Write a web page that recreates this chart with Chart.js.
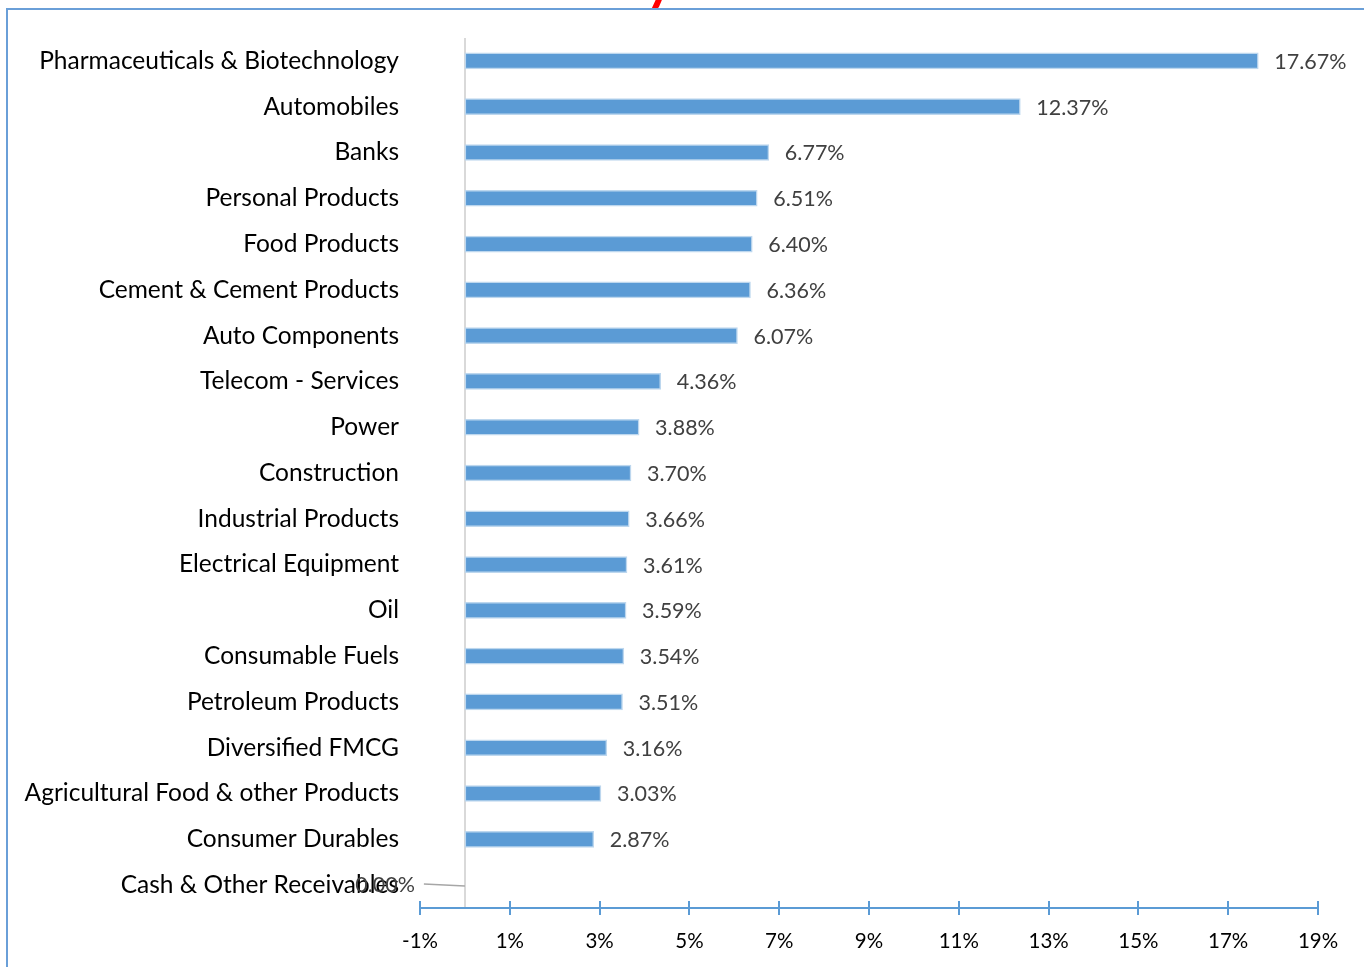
<!DOCTYPE html>
<html>
<head>
<meta charset="utf-8">
<script src="https://cdn.jsdelivr.net/npm/chart.js@4.4.1/dist/chart.umd.min.js"></script>
<style>
html,body{margin:0;padding:0;background:#fff;overflow:hidden;}
#wrap{position:absolute;left:0;top:0;width:1364px;height:967px;}
</style>
</head>
<body>
<div id="wrap"><canvas id="c" width="1364" height="967"></canvas></div>
<script>
const categories = [
  "Pharmaceuticals & Biotechnology","Automobiles","Banks","Personal Products","Food Products",
  "Cement & Cement Products","Auto Components","Telecom - Services","Power","Construction",
  "Industrial Products","Electrical Equipment","Oil","Consumable Fuels","Petroleum Products",
  "Diversified FMCG","Agricultural Food & other Products","Consumer Durables","Cash & Other Receivables"
];
const values = [17.67,12.37,6.77,6.51,6.40,6.36,6.07,4.36,3.88,3.70,3.66,3.61,3.59,3.54,3.51,3.16,3.03,2.87,0.00];
const xTicks = [-1,1,3,5,7,9,11,13,15,17,19];
const titleText = "y";

const FONT = "Lato, 'Open Sans', sans-serif";

const decor = {
  id:'decor',
  beforeDatasetsDraw(chart){
    const ctx = chart.ctx, xs = chart.scales.x, ca = chart.chartArea;
    ctx.save();
    // outer border
    ctx.strokeStyle = '#6A9FD8'; ctx.lineWidth = 2;
    ctx.strokeRect(7, 9, 1500, 1100);
    // title fragment (cut off at top)
    ctx.fillStyle = '#FF0000';
    ctx.font = "bold 54px " + FONT;
    ctx.textAlign = 'center'; ctx.textBaseline = 'alphabetic';
    ctx.fillText(titleText, 660, -1);
    // zero axis line
    const x0 = Math.round(xs.getPixelForValue(0));
    ctx.strokeStyle = '#D9D9D9'; ctx.lineWidth = 2;
    ctx.beginPath(); ctx.moveTo(x0, ca.top); ctx.lineTo(x0, ca.bottom); ctx.stroke();
    ctx.restore();
  },
  afterDatasetsDraw(chart){
    const ctx = chart.ctx, xs = chart.scales.x, ca = chart.chartArea;
    const meta = chart.getDatasetMeta(0);
    ctx.save();
    // bottom axis with crossing ticks
    ctx.strokeStyle = '#5B9BD5'; ctx.lineWidth = 2;
    const yA = ca.bottom;
    ctx.beginPath();
    ctx.moveTo(xs.getPixelForValue(xTicks[0]), yA);
    ctx.lineTo(xs.getPixelForValue(xTicks[xTicks.length-1]), yA);
    ctx.stroke();
    xTicks.forEach(t=>{
      const px = Math.round(xs.getPixelForValue(t));
      ctx.beginPath(); ctx.moveTo(px, yA-7); ctx.lineTo(px, yA+7); ctx.stroke();
    });
    // data labels
    ctx.font = "21.5px " + FONT;
    ctx.fillStyle = '#404040';
    ctx.textBaseline = 'middle';
    meta.data.forEach((bar,i)=>{
      const txt = values[i].toFixed(2) + '%';
      if (values[i] > 0) {
        ctx.textAlign = 'left';
        ctx.fillText(txt, bar.x + 16, bar.y + 1);
      } else {
        ctx.textAlign = 'right';
        const x0 = xs.getPixelForValue(0);
        ctx.fillText(txt, x0 - 50, bar.y);
        ctx.strokeStyle = '#A6A6A6'; ctx.lineWidth = 1.5;
        ctx.beginPath(); ctx.moveTo(x0 - 41, bar.y - 1); ctx.lineTo(x0, bar.y + 1); ctx.stroke();
      }
    });
    ctx.restore();
  }
};

new Chart(document.getElementById('c'), {
  type:'bar',
  data:{
    labels: categories,
    datasets:[{
      data: values,
      backgroundColor:'#5B9BD5',
      borderColor:'#BDD7EE',
      borderWidth:1.5,
      borderSkipped:false,
      barThickness:16
    }]
  },
  options:{
    indexAxis:'y',
    responsive:false,
    animation:false,
    devicePixelRatio:1,
    layout:{padding:{left:0,right:46,top:38,bottom:0}},
    plugins:{legend:{display:false},tooltip:{enabled:false},title:{display:false}},
    scales:{
      x:{
        min:-1,max:19,
        afterBuildTicks(scale){ scale.ticks = xTicks.map(v=>({value:v})); },
        afterFit(scale){ scale.height = 59; },
        grid:{display:false,drawTicks:false},
        border:{display:false},
        ticks:{
          padding:21,
          color:'#000000',
          font:{family:FONT,size:20.5},
          callback:(v)=>v+'%'
        }
      },
      y:{
        afterFit(scale){ scale.width = 420; },
        grid:{display:false,drawTicks:false},
        border:{display:false},
        ticks:{
          padding:21,
          color:'#000000',
          font:{family:FONT,size:24.5},
          autoSkip:false
        }
      }
    }
  },
  plugins:[decor]
});
</script>
</body>
</html>
